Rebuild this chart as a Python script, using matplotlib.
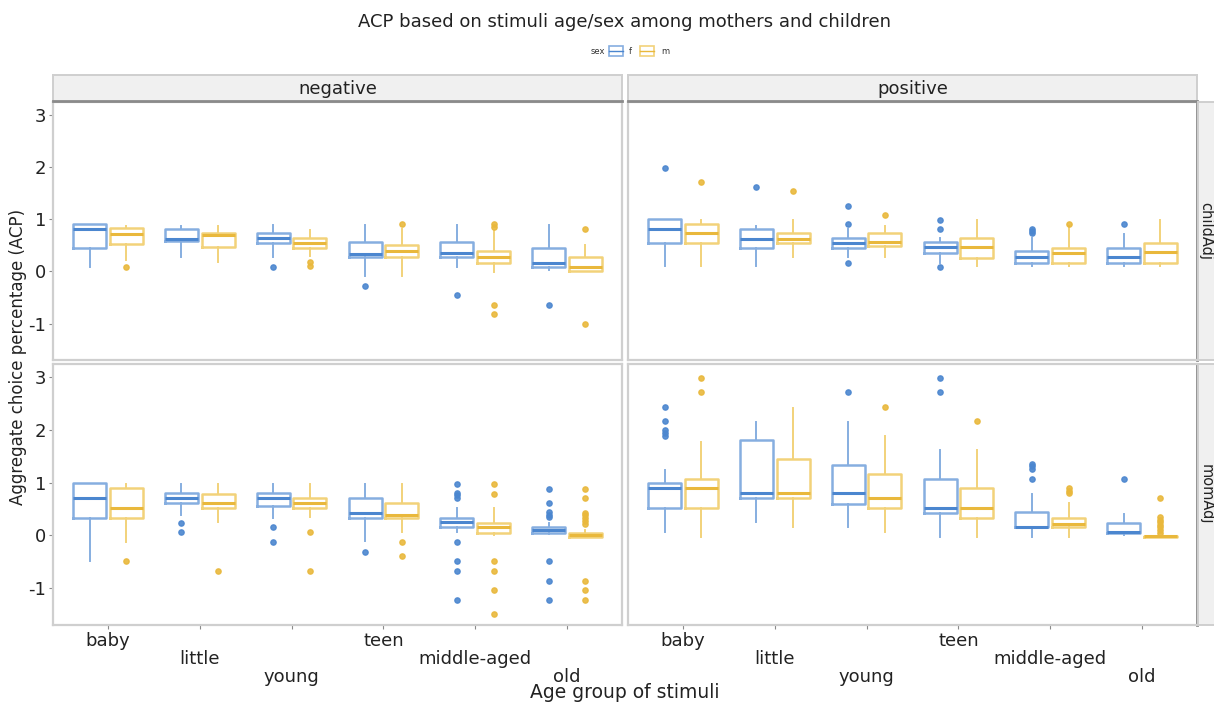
import matplotlib.pyplot as plt
from matplotlib.patches import Rectangle

W, H = 1214, 703

categories = ["baby", "little", "young", "teen", "middle-aged", "old"]
tick_labels = ["baby", "\nlittle", "\n\nyoung", "teen", "\nmiddle-aged", "\n\nold"]
col_labels = ["negative", "positive"]
row_labels = ["childAdj", "momAdj"]
sexes = ["f", "m"]

# (whisker low, q1, median, q3, whisker high) per age group
neg_child_f = [(0.08, 0.44, 0.81, 0.90, 0.90), (0.27, 0.59, 0.62, 0.82, 0.87),
               (0.27, 0.54, 0.65, 0.73, 0.89), (-0.09, 0.27, 0.34, 0.56, 0.89),
               (0.08, 0.27, 0.35, 0.56, 0.89), (0.02, 0.08, 0.16, 0.45, 0.89)]
neg_child_m = [(0.21, 0.52, 0.71, 0.83, 0.87), (0.18, 0.46, 0.70, 0.73, 0.87),
               (0.30, 0.45, 0.54, 0.64, 0.79), (-0.09, 0.27, 0.40, 0.51, 0.81),
               (-0.01, 0.16, 0.28, 0.40, 0.78), (0.00, 0.00, 0.08, 0.28, 0.51)]
pos_child_f = [(0.10, 0.54, 0.81, 1.00, 1.00), (0.10, 0.44, 0.63, 0.82, 0.87),
               (0.27, 0.44, 0.54, 0.64, 0.81), (0.17, 0.35, 0.46, 0.56, 0.65),
               (0.10, 0.16, 0.27, 0.39, 0.65), (0.10, 0.16, 0.27, 0.45, 0.72)]
pos_child_m = [(0.10, 0.54, 0.73, 0.90, 0.98), (0.27, 0.54, 0.63, 0.73, 0.98),
               (0.27, 0.49, 0.56, 0.73, 0.87), (0.10, 0.26, 0.46, 0.64, 0.98),
               (0.10, 0.16, 0.35, 0.45, 0.87), (0.10, 0.16, 0.37, 0.54, 0.98)]
neg_mom_f = [(-0.48, 0.33, 0.70, 0.99, 0.99), (0.38, 0.61, 0.70, 0.81, 0.97),
             (0.32, 0.56, 0.70, 0.81, 0.97), (-0.11, 0.33, 0.43, 0.71, 0.97),
             (0.06, 0.15, 0.25, 0.33, 0.51), (0.02, 0.05, 0.10, 0.16, 0.24)]
neg_mom_m = [(-0.13, 0.33, 0.52, 0.89, 0.97), (0.25, 0.51, 0.61, 0.78, 0.97),
             (0.35, 0.51, 0.61, 0.71, 0.97), (0.06, 0.33, 0.38, 0.61, 0.97),
             (0.00, 0.05, 0.16, 0.24, 0.51), (-0.03, -0.03, 0.00, 0.05, 0.10)]
pos_mom_f = [(0.06, 0.51, 0.89, 0.99, 1.24), (0.25, 0.70, 0.80, 1.80, 2.15),
             (0.16, 0.59, 0.80, 1.34, 2.15), (-0.03, 0.43, 0.52, 1.07, 1.61),
             (-0.03, 0.15, 0.16, 0.45, 0.78), (0.00, 0.05, 0.06, 0.24, 0.41)]
pos_mom_m = [(-0.03, 0.51, 0.89, 1.07, 1.78), (0.16, 0.70, 0.80, 1.45, 2.42),
             (0.06, 0.51, 0.70, 1.17, 1.88), (-0.03, 0.33, 0.52, 0.89, 1.61),
             (-0.03, 0.15, 0.22, 0.33, 0.61), (-0.03, -0.03, -0.02, -0.01, -0.01)]

# outliers per age group
neg_child_f_out = [[], [], [0.08], [-0.28], [-0.46], [-0.65]]
neg_child_m_out = [[0.08], [], [0.18, 0.10], [0.90], [0.90, 0.85, -0.65, -0.82], [0.81, -1.0]]
pos_child_f_out = [[1.99], [1.62], [1.25, 0.90, 0.17], [0.99, 0.81, 0.08], [0.81, 0.77, 0.73], [0.90]]
pos_child_m_out = [[1.72], [1.54], [1.08], [], [0.90], []]
neg_mom_f_out = [[], [0.24, 0.06], [0.16, -0.13], [-0.31],
                 [0.97, 0.80, 0.76, 0.70, -0.13, -0.49, -0.67, -1.22],
                 [0.88, 0.61, 0.45, 0.39, 0.35, -0.49, -0.86, -1.22]]
neg_mom_m_out = [[-0.49], [-0.67], [0.06, -0.67], [-0.13, -0.39],
                 [0.97, 0.78, -0.49, -0.67, -1.04, -1.50],
                 [0.88, 0.70, 0.43, 0.38, 0.33, 0.27, 0.22, -0.86, -1.04, -1.22]]
pos_mom_f_out = [[2.44, 2.17, 2.00, 1.94, 1.88], [], [2.71], [2.99, 2.71],
                 [1.35, 1.31, 1.26, 1.07], [1.07]]
pos_mom_m_out = [[2.99, 2.71], [], [2.44], [2.17], [0.89, 0.84, 0.80],
                 [0.70, 0.35, 0.30, 0.25, 0.20, 0.15, 0.10, 0.05]]

panels = {
    (0, 0): (neg_child_f, neg_child_f_out, neg_child_m, neg_child_m_out),
    (0, 1): (pos_child_f, pos_child_f_out, pos_child_m, pos_child_m_out),
    (1, 0): (neg_mom_f, neg_mom_f_out, neg_mom_m, neg_mom_m_out),
    (1, 1): (pos_mom_f, pos_mom_f_out, pos_mom_m, pos_mom_m_out),
}

colors = {"f": ("#86aee0", "#4b86cf"), "m": ("#f2d27a", "#e9b83c")}

col_x = [(53, 622), (628, 1197)]
row_y = [(102, 360), (364, 625)]


def fig_rect(x0, y0, x1, y1):
    return [x0 / W, 1 - y1 / H, (x1 - x0) / W, (y1 - y0) / H]


def stats_list(summary, outliers):
    out = []
    for (lo, q1, med, q3, hi), fl in zip(summary, outliers):
        out.append(dict(whislo=lo, q1=q1, med=med, q3=q3, whishi=hi, fliers=fl))
    return out


plt.rcParams["font.family"] = "DejaVu Sans"
fig = plt.figure(figsize=(W / 100, H / 100), dpi=100)

for (r, c), (f_sum, f_out, m_sum, m_out) in panels.items():
    x0, x1 = col_x[c]
    y0, y1 = row_y[r]
    ax = fig.add_axes(fig_rect(x0, y0, x1, y1))
    pos = list(range(len(categories)))
    for sex, summ, outl, shift in (("f", f_sum, f_out, -0.2), ("m", m_sum, m_out, 0.2)):
        light, dark = colors[sex]
        ax.bxp(stats_list(summ, outl), positions=[p + shift for p in pos],
               widths=0.36, showcaps=False, patch_artist=False,
               boxprops=dict(color=light, linewidth=1.8),
               whiskerprops=dict(color=light, linewidth=1.4),
               medianprops=dict(color=dark, linewidth=2.2),
               flierprops=dict(marker="o", markersize=3.8, markerfacecolor=dark,
                               markeredgecolor=dark, alpha=0.9))
    ax.set_xlim(-0.6, 5.6)
    ax.set_ylim(-1.7, 3.25)
    ax.set_yticks([-1, 0, 1, 2, 3])
    ax.set_xticks(pos)
    for s in ax.spines.values():
        s.set_color("#cfcfcf")
        s.set_linewidth(1.6)
    if c == 1:
        ax.spines["right"].set_color("#8a8a8a")
        ax.spines["right"].set_linewidth(2)
    ax.tick_params(colors="#8a8a8a", length=3, width=0.8, labelcolor="#222222",
                   labelsize=13, pad=2)
    if c == 0:
        ax.set_yticklabels(["-1", "0", "1", "2", "3"])
    else:
        ax.tick_params(axis="y", left=False, labelleft=False)
    if r == 1:
        ax.set_xticklabels(tick_labels, linespacing=1.0, va="top", fontsize=13)
    else:
        ax.tick_params(axis="x", bottom=False, labelbottom=False)

    # top strips
    if r == 0:
        sax = fig.add_axes(fig_rect(x0, 75, x1, 101))
        sax.set_facecolor("#f0f0f0")
        sax.set_xticks([])
        sax.set_yticks([])
        for s in sax.spines.values():
            s.set_color("#cfcfcf")
            s.set_linewidth(1.4)
        sax.spines["bottom"].set_color("#8a8a8a")
        sax.spines["bottom"].set_linewidth(2)
        sax.text(0.5, 0.48, col_labels[c], ha="center", va="center",
                 fontsize=13, color="#222222", transform=sax.transAxes)
    # right strips
    if c == 1:
        rax = fig.add_axes(fig_rect(1198, y0, 1232, y1))
        rax.set_facecolor("#f0f0f0")
        rax.set_xticks([])
        rax.set_yticks([])
        for s in rax.spines.values():
            s.set_color("#cfcfcf")
            s.set_linewidth(1.4)
        fig.text(1206 / W, 1 - (y0 + y1) / 2 / H, row_labels[r], rotation=270,
                 ha="center", va="center", fontsize=10.5, color="#222222")

fig.text(625 / W, 1 - 22 / H, "ACP based on stimuli age/sex among mothers and children",
         ha="center", va="center", fontsize=13, color="#222222")
fig.text(625 / W, 1 - 692 / H, "Age group of stimuli", ha="center", va="center",
         fontsize=13.5, color="#222222")
fig.text(18 / W, 1 - 357 / H, "Aggregate choice percentage (ACP)", rotation=90,
         ha="center", va="center", fontsize=12, color="#222222")

# legend
fig.text(598 / W, 1 - 51 / H, "sex", ha="center", va="center", fontsize=6, color="#333333")
for sex, kx, tx in (("f", 609, 630), ("m", 640, 665)):
    light, dark = colors[sex]
    fig.patches.append(Rectangle((kx / W, 1 - 56 / H), 14 / W, 10 / H, transform=fig.transFigure,
                                 facecolor="white", edgecolor=light, linewidth=1.2))
    fig.add_artist(plt.Line2D([kx / W, (kx + 14) / W], [1 - 51 / H] * 2, color=dark,
                              linewidth=1.0, transform=fig.transFigure))
    fig.text(tx / W, 1 - 51 / H, sex, ha="center", va="center", fontsize=6, color="#333333")

fig.savefig("out.png", dpi=100)
